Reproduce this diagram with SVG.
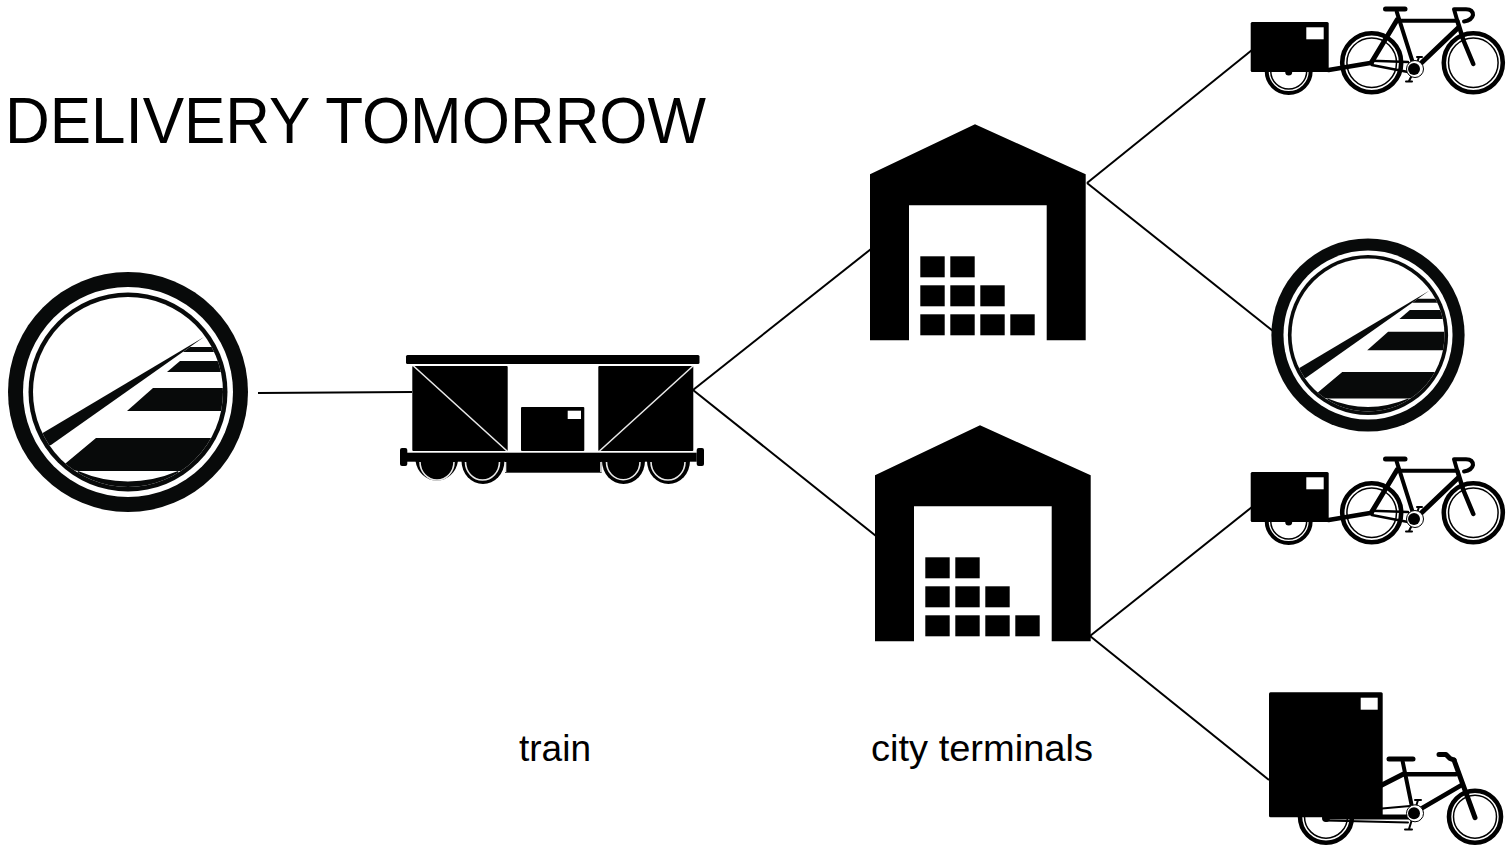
<svg xmlns="http://www.w3.org/2000/svg" width="1508" height="846" viewBox="0 0 1508 846">
<style>
.t{font-family:"Liberation Sans",Arial,sans-serif;fill:#000}
.c{stroke:#000;stroke-width:2;fill:none}
.w{fill:#fff}
.wl{stroke:#e8e8e8;stroke-width:1.6;fill:none}
.b{stroke:#000;fill:none;stroke-linecap:round;stroke-linejoin:round}
</style>
<defs>
<clipPath id="railClip"><circle cx="0" cy="0" r="95"/></clipPath>
<symbol id="rail" overflow="visible">
<circle r="120" fill="#080a0a"/>
<circle r="105" fill="#fff"/>
<circle r="99.500" fill="#080a0a"/>
<circle r="95" fill="#fff"/>
<g clip-path="url(#railClip)" fill="#080a0a">
<polygon points="76,-55 -92,45 -92,58 -77,53"/>
<polygon points="62,-45 100,-45 100,-40 55,-40"/>
<polygon points="52,-31 100,-31 100,-20 39,-20"/>
<polygon points="25,-4 100,-4 100,19 -1,19"/>
<polygon points="-32,46 100,46 100,79 -50,79 -70,76 -62,71"/>
<path d="M-50 79Q0 100 50 79L60 100L-60 100Z"/>
</g>
</symbol>
<symbol id="warehouse" overflow="visible">
<polygon points="105,0 215.700,50 215.700,216 176.700,216 176.700,81 39,81 39,216 0,216 0,50" fill="#000"/>
<g fill="#000">
<rect x="50.300" y="132" width="24.400" height="21"/><rect x="80.300" y="132" width="24.400" height="21"/>
<rect x="50.300" y="161" width="24.400" height="21"/><rect x="80.300" y="161" width="24.400" height="21"/><rect x="110.300" y="161" width="24.400" height="21"/>
<rect x="50.300" y="190" width="24.400" height="21"/><rect x="80.300" y="190" width="24.400" height="21"/><rect x="110.300" y="190" width="24.400" height="21"/><rect x="140.300" y="190" width="24.400" height="21"/>
</g>
</symbol>
<symbol id="wheel" overflow="visible">
<circle r="29.500" fill="#fff" stroke="#000" stroke-width="4.600"/>
<circle r="24.800" fill="none" stroke="#000" stroke-width="1.500"/>
</symbol>
<symbol id="bike" overflow="visible">
<path d="M1266.700 71A22 22 0 0 0 1310.700 71" fill="#fff" stroke="#000" stroke-width="4"/>
<path d="M1270.700 71A18 18 0 0 0 1306.700 71" fill="none" stroke="#000" stroke-width="1.500"/>
<rect x="1250.700" y="22" width="78" height="50" rx="1.500" fill="#000"/>
<rect x="1306.300" y="27.300" width="17.400" height="12" class="w"/>
<circle cx="1288.700" cy="72" r="3.500" fill="#000"/>
<use href="#wheel" x="1371.700" y="62.700"/>
<use href="#wheel" x="1473.300" y="62.700"/>
<g class="b">
<path d="M1328.700 70L1371.700 62.700" stroke-width="4.500"/>
<path d="M1396.700 11.700L1415 69.300" stroke-width="4"/>
<path d="M1385.500 9H1405" stroke-width="5"/>
<path d="M1399 20.700H1456" stroke-width="4"/>
<path d="M1458 28L1415 69" stroke-width="5"/>
<path d="M1371.700 62L1397 20" stroke-width="5"/>
<path d="M1371.700 60.700L1408 62M1371.700 65L1408 72" stroke-width="2.500"/>
<path d="M1457.300 20.700L1463.300 40L1473.300 64" stroke-width="4.500"/>
<path d="M1454 9.300H1466Q1473 9.500 1473 15Q1472 20 1464 21.500M1454 9.300L1457.300 20.700" stroke-width="4"/>
<path d="M1409 81L1415 69L1419 57M1406 81.500H1412M1417 57H1422" stroke-width="2"/>
</g>
<circle cx="1415" cy="69" r="8.500" fill="#fff" stroke="#000" stroke-width="1"/>
<circle cx="1414" cy="69" r="6" fill="#000"/>
</symbol>
</defs>
<rect width="1508" height="846" fill="#fff"/>
<g id="connectors">
<path class="c" d="M258 393L412 392"/>
<path class="c" d="M693 390L871 249"/>
<path class="c" d="M693 390L876 536"/>
<path class="c" d="M1087 183L1252 50"/>
<path class="c" d="M1087 183L1273 331"/>
<path class="c" d="M1090 636L1252 507"/>
<path class="c" d="M1090 636L1269 780"/>
</g>
<g id="title"><text class="t" x="5" y="143" font-size="64" textLength="701" lengthAdjust="spacingAndGlyphs">DELIVERY TOMORROW</text></g>
<g id="rail-start"><use href="#rail" x="128" y="392"/></g>
<g id="train">
<rect x="406" y="355" width="293.500" height="9" rx="1.500" fill="#000"/>
<rect x="412.300" y="366" width="95.400" height="85" rx="1" fill="#000"/>
<rect x="598.300" y="366" width="95" height="85" rx="1" fill="#000"/>
<path class="wl" d="M413.500 366L507 451M693 366L599.500 451"/>
<rect x="521" y="407" width="63.300" height="44" rx="1" fill="#000"/>
<rect x="567.700" y="410.700" width="13.300" height="8.300" class="w"/>
<rect x="406.700" y="452.700" width="290" height="9" fill="#000"/>
<rect x="400" y="448" width="7.300" height="18" rx="2" fill="#000"/>
<rect x="696.700" y="448" width="7.300" height="18" rx="2" fill="#000"/>
<rect x="505" y="460" width="96.700" height="12.700" fill="#000"/>
<g fill="#000">
<path d="M415.500 461A21.500 23 0 0 0 458 461Z"/>
<path d="M461.500 461A21.500 23 0 0 0 504.500 461Z"/>
<path d="M602 461A21.500 23 0 0 0 645 461Z"/>
<path d="M647 461A21.500 23 0 0 0 690 461Z"/>
</g>
<path class="wl" d="M420 462A16.500 17.500 0 0 0 454 462M465.500 462A16.500 17.500 0 0 0 499.500 462M606.500 462A16.500 17.500 0 0 0 640 462M651 462A16.500 17.500 0 0 0 685 462M505.500 462V472M601 462V472"/>
</g>
<g id="warehouse-1"><use href="#warehouse" x="870" y="124.300"/></g>
<g id="warehouse-2"><use href="#warehouse" x="875" y="425.300"/></g>
<g id="bike-1"><use href="#bike"/></g>
<g id="rail-end"><use href="#rail" transform="translate(1368 335) scale(0.805)"/></g>
<g id="bike-2"><use href="#bike" y="450"/></g>
<g id="cargo-bike">
<circle cx="1326" cy="816.700" r="26" fill="#fff" stroke="#000" stroke-width="4.500"/>
<circle cx="1326" cy="816.700" r="21.500" fill="none" stroke="#000" stroke-width="1.500"/>
<circle cx="1475" cy="816.700" r="26" fill="#fff" stroke="#000" stroke-width="4.600"/>
<circle cx="1475" cy="816.700" r="21.500" fill="none" stroke="#000" stroke-width="1.500"/>
<g class="b">
<path d="M1402.700 761.700L1413.300 813.300" stroke-width="4"/>
<path d="M1389 759H1413" stroke-width="5"/>
<path d="M1404 774.300H1456" stroke-width="4.500"/>
<path d="M1378 787L1403.500 774" stroke-width="5"/>
<path d="M1461.700 785L1413.300 813.300" stroke-width="4.500"/>
<path d="M1454 760L1475 817.700" stroke-width="5"/>
<path d="M1439 754.500H1446L1450 758.500L1454 760" stroke-width="5"/>
<path d="M1382 808.500L1410 806" stroke-width="2"/>
<path d="M1326 820.500L1408 822.500" stroke-width="2"/>
<path d="M1326 817H1410" stroke-width="5"/>
<path d="M1409 829L1414 813L1418 800M1405 829.500H1412M1415 800H1421" stroke-width="2"/>
</g>
<circle cx="1415" cy="813.300" r="8.500" fill="#fff" stroke="#000" stroke-width="1"/>
<circle cx="1414" cy="813.300" r="6" fill="#000"/>
<rect x="1269" y="692.300" width="113.700" height="125" rx="1.500" fill="#000"/>
<rect x="1360.700" y="697.700" width="17" height="12" class="w"/>
<circle cx="1326" cy="818" r="4" fill="#000"/>
</g>
<g id="label-train"><text class="t" x="519" y="761" font-size="37" textLength="72" lengthAdjust="spacingAndGlyphs">train</text></g>
<g id="label-city"><text class="t" x="871" y="761" font-size="37" textLength="222" lengthAdjust="spacingAndGlyphs">city terminals</text></g>
</svg>
